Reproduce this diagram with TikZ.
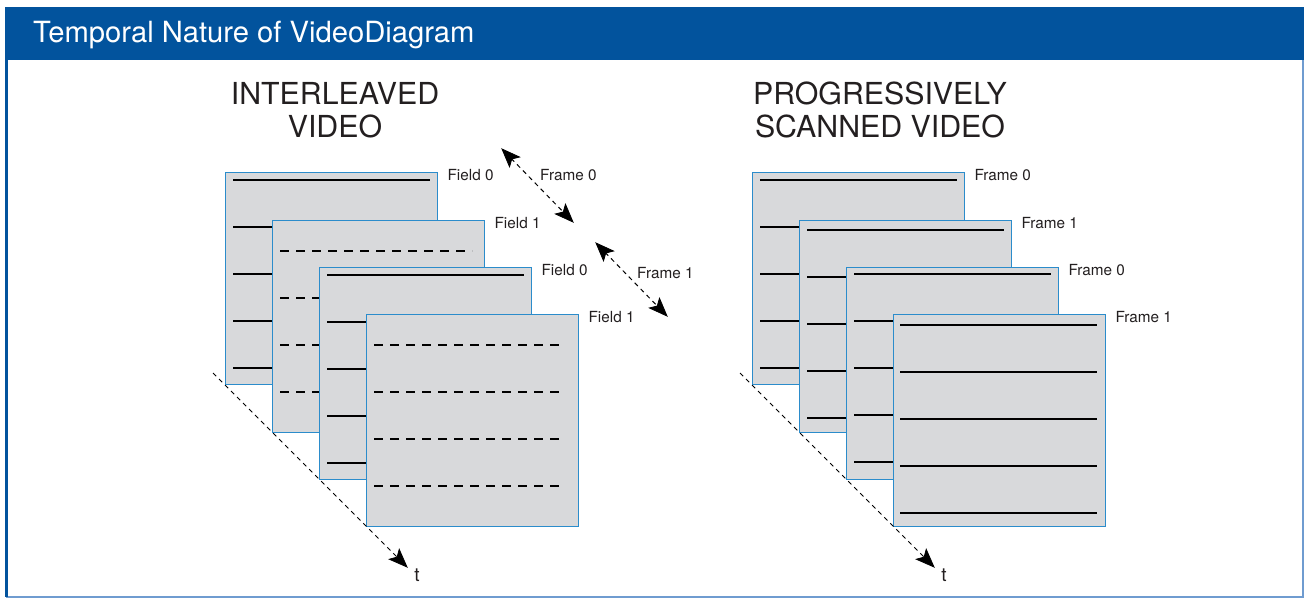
\documentclass[tikz,border=0pt]{standalone}
\usepackage{fontspec}
\setmainfont{TeX Gyre Heros}
\usetikzlibrary{arrows.meta,calc}
\definecolor{hdrblue}{HTML}{02539D}
\definecolor{edgeblue}{HTML}{6F9CD0}
\definecolor{boxfill}{HTML}{D8D9DB}
\definecolor{boxedge}{HTML}{2B8CCB}
\definecolor{ink}{HTML}{231F20}
\tikzset{
  pane/.style={draw=boxedge, line width=1.4pt, fill=boxfill, minimum width=212pt, minimum height=212pt, inner sep=0pt, anchor=north west},
  scanline/.style={draw=black, line width=2.9pt},
  dashline/.style={draw=black, line width=2.9pt, dash pattern=on 8.5pt off 7.5pt},
  tag/.style={anchor=base west, inner sep=0pt, font=\fontsize{15.3}{18}\selectfont, text=ink},
  headtxt/.style={align=center, font=\fontsize{30.3}{34}\selectfont, text=ink, inner sep=0pt, anchor=base},
  shaft/.style={draw=black, line width=1pt, dash pattern=on 4.5pt off 4pt, shorten >=13pt},
  headtip/.style={draw=black, fill=black, line width=0.8pt, solid, line join=miter},
}
% arrowhead drawn as a filled kite at point #2 pointing away from #1
\newcommand{\kitehead}[2]{%
  \path[headtip] (#2) -- ($(#2)!18pt!(#1)!7pt!90:(#1)$) -- ($(#2)!14pt!(#1)$) -- ($(#2)!18pt!(#1)!7pt!-90:(#1)$) -- cycle;}
\begin{document}
\begin{tikzpicture}[x=1pt,y=-1pt]
\useasboundingbox (0,0) rectangle (1304,598);
% header
\fill[hdrblue] (5,7) rectangle (1304,60);
\node[anchor=base west, inner sep=0pt, text=white, font=\fontsize{29.2}{32}\selectfont] (title) at (33,42) {Temporal Nature of VideoDiagram};
\draw[edgeblue, line width=1.5pt] (1303,60) -- (1303,597) -- (6,597);
\draw[hdrblue, line width=2.2pt] (6.5,60) -- (6.5,597);

% titles
\node[headtxt] (tl1) at (335,104) {INTERLEAVED};
\node[headtxt] (tl2) at (335,137) {VIDEO};
\node[headtxt] (tr1) at (880,104) {PROGRESSIVELY};
\node[headtxt] (tr2) at (880,137) {SCANNED VIDEO};

% ---------- interleaved stack ----------
\node[pane] (L0) at (225,172) {};
\foreach \k in {0,...,4} \draw[scanline] ($(L0.north west)+(8,8+47*\k)$) -- ++(197,0);
\node[pane] (L1) at (272,220) {};
\foreach \k in {0,...,3} \draw[dashline] ($(L1.north west)+(8,31+47*\k)$) -- ++(192,0);
\node[pane] (L2) at (319,267) {};
\foreach \k in {0,...,4} \draw[scanline] ($(L2.north west)+(8,8+47*\k)$) -- ++(197,0);
\node[pane] (L3) at (366,314) {};
\foreach \k in {0,...,3} \draw[dashline] ($(L3.north west)+(8,31+47*\k)$) -- ++(192,0);

\node[tag] (f0a) at ($(L0.north east)+(9,8)$) {Field 0};
\node[tag] (f1a) at ($(L1.north east)+(9,8)$) {Field 1};
\node[tag] (f0b) at ($(L2.north east)+(9,8)$) {Field 0};
\node[tag] (f1b) at ($(L3.north east)+(9,8)$) {Field 1};

\coordinate (fa0) at (502,149);
\coordinate (fa1) at (573,222);
\coordinate (fb0) at (596,243);
\coordinate (fb1) at (667,316);
\draw[shaft, shorten <=13pt] (fa0) -- (fa1);
\kitehead{fa1}{fa0}\kitehead{fa0}{fa1}
\draw[shaft, shorten <=13pt] (fb0) -- (fb1);
\kitehead{fb1}{fb0}\kitehead{fb0}{fb1}
\node[tag] (fr0) at (540,180) {Frame 0};
\node[tag] (fr1) at (637,278) {Frame 1};

\coordinate (tsL) at (213,373);
\coordinate (teL) at (407,567);
\draw[shaft] (tsL) -- (teL);
\kitehead{tsL}{teL}
\node[inner sep=0pt, font=\fontsize{19}{22}\selectfont, text=ink] (tL) at (417,575) {t};

% ---------- progressive stack ----------
\node[pane] (R0) at (752,172) {};
\foreach \k in {0,...,4} \draw[scanline] ($(R0.north west)+(8,8+47*\k)$) -- ++(197,0);
\node[pane] (R1) at (799,220) {};
\foreach \k in {0,...,4} \draw[scanline] ($(R1.north west)+(8,10+47*\k)$) -- ++(197,0);
\node[pane] (R2) at (846,267) {};
\foreach \k in {0,...,4} \draw[scanline] ($(R2.north west)+(8,7+47*\k)$) -- ++(197,0);
\node[pane] (R3) at (893,314) {};
\foreach \k in {0,...,4} \draw[scanline] ($(R3.north west)+(7,11+47*\k)$) -- ++(197,0);

\node[tag] (g0a) at ($(R0.north east)+(9,8)$) {Frame 0};
\node[tag] (g1a) at ($(R1.north east)+(9,8)$) {Frame 1};
\node[tag] (g0b) at ($(R2.north east)+(9,8)$) {Frame 0};
\node[tag] (g1b) at ($(R3.north east)+(9,8)$) {Frame 1};

\coordinate (tsR) at (740,373);
\coordinate (teR) at (934,567);
\draw[shaft] (tsR) -- (teR);
\kitehead{tsR}{teR}
\node[inner sep=0pt, font=\fontsize{19}{22}\selectfont, text=ink] (tR) at (944,575) {t};
\end{tikzpicture}
\end{document}
